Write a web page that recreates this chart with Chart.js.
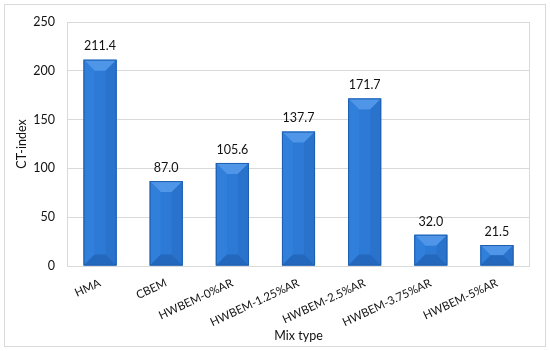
<!DOCTYPE html>
<html lang="en">
<head>
    <meta charset="UTF-8">
    <title>CT-index by mix type</title>
    <script src="https://cdn.jsdelivr.net/npm/chart.js"></script>
    <style>
        html, body { margin: 0; padding: 0; background: #fff; }
        #wrap { position: relative; width: 550px; height: 351px; }
    </style>
</head>
<body>
    <div id="wrap"><canvas id="ctChart"></canvas></div>

    <script>
        // Data
        const mixTypes = ['HMA', 'CBEM', 'HWBEM-0%AR', 'HWBEM-1.25%AR', 'HWBEM-2.5%AR', 'HWBEM-3.75%AR', 'HWBEM-5%AR'];
        const ctIndex = [211.4, 87.0, 105.6, 137.7, 171.7, 32.0, 21.5];
        const yTicks = [0, 50, 100, 150, 200, 250];

        const FONT = 'Lato, "Open Sans", sans-serif';

        // outer frame of the figure + plot box
        const framePlugin = {
            id: 'frame',
            beforeDraw(chart) {
                const ctx = chart.ctx;
                ctx.save();
                ctx.fillStyle = '#fff';
                ctx.fillRect(0, 0, chart.width, chart.height);
                ctx.strokeStyle = '#D9D9D9';
                ctx.lineWidth = 1;
                ctx.strokeRect(4.5, 4.5, 541, 342);
                const a = chart.chartArea;
                ctx.strokeRect(a.left + 0.5, a.top + 0.5, a.right - a.left - 1, a.bottom - a.top);
                ctx.restore();
            }
        };

        function face(ctx, color, pts) {
            ctx.fillStyle = color;
            ctx.beginPath();
            ctx.moveTo(pts[0][0], pts[0][1]);
            for (let k = 1; k < pts.length; k++) ctx.lineTo(pts[k][0], pts[k][1]);
            ctx.closePath();
            ctx.fill();
        }

        // bevelled bar faces + value labels
        const bevelPlugin = {
            id: 'bevel',
            afterDatasetsDraw(chart) {
                const ctx = chart.ctx;
                const meta = chart.getDatasetMeta(0);
                ctx.save();
                meta.data.forEach((bar, i) => {
                    const w = bar.width;
                    const l = bar.x - w / 2, r = bar.x + w / 2;
                    const t = bar.y, b = bar.base;
                    const d = Math.min(11, (b - t) / 2, w / 2);
                    face(ctx, '#4F96E8', [[l, t], [r, t], [r - d, t + d], [l + d, t + d]]);
                    face(ctx, '#307FDA', [[l, t], [l + d, t + d], [l + d, b - d], [l, b]]);
                    face(ctx, '#2A73CC', [[r, t], [r - d, t + d], [r - d, b - d], [r, b]]);
                    face(ctx, '#2468BE', [[l, b], [l + d, b - d], [r - d, b - d], [r, b]]);
                    ctx.strokeStyle = '#1F5FAE';
                    ctx.lineWidth = 1;
                    ctx.strokeRect(l + 0.5, t + 0.5, w - 1, b - t - 1);

                    ctx.fillStyle = '#111';
                    ctx.font = '12.5px ' + FONT;
                    ctx.textAlign = 'center';
                    ctx.textBaseline = 'bottom';
                    ctx.fillText(ctIndex[i].toFixed(1), bar.x, t - 7);
                });
                ctx.restore();
            }
        };

        const ctx = document.getElementById('ctChart').getContext('2d');
        const ctChart = new Chart(ctx, {
            type: 'bar',
            data: {
                labels: mixTypes,
                datasets: [{
                    label: 'CT-index',
                    data: ctIndex,
                    backgroundColor: '#2D7AD6',
                    borderWidth: 0,
                    barPercentage: 0.5,
                    categoryPercentage: 1.0
                }]
            },
            options: {
                responsive: true,
                maintainAspectRatio: false,
                animation: false,
                layout: { padding: { left: 14, right: 20, top: 22, bottom: 6 } },
                plugins: {
                    legend: { display: false },
                    tooltip: { enabled: false }
                },
                scales: {
                    x: {
                        grid: { display: false },
                        border: { display: false },
                        ticks: {
                            color: '#111',
                            font: { family: FONT, size: 11.5 },
                            minRotation: 25,
                            maxRotation: 25,
                            autoSkip: false,
                            padding: 2
                        },
                        title: {
                            display: true,
                            text: 'Mix type',
                            color: '#111',
                            font: { family: FONT, size: 12.5 },
                            padding: { top: 0, bottom: 2 }
                        },
                        afterFit(scale) { scale.height = 79; }
                    },
                    y: {
                        min: 0,
                        max: 250,
                        afterBuildTicks(scale) { scale.ticks = yTicks.map(v => ({ value: v })); },
                        grid: { color: '#D9D9D9', drawTicks: false },
                        border: { display: false },
                        ticks: {
                            color: '#111',
                            font: { family: FONT, size: 12.5 },
                            padding: 12
                        },
                        title: {
                            display: true,
                            text: 'CT-index',
                            color: '#111',
                            font: { family: FONT, size: 12.5 },
                            padding: { top: 0, bottom: 0 }
                        },
                        afterFit(scale) { scale.width = 53; }
                    }
                }
            },
            plugins: [framePlugin, bevelPlugin]
        });
    </script>
</body>
</html>
